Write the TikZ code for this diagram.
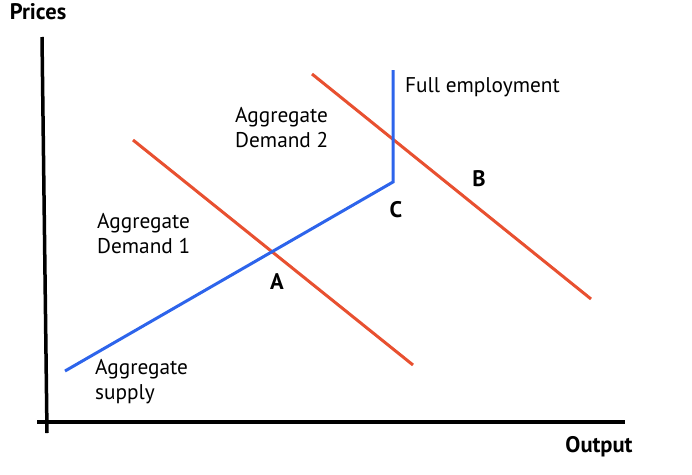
\documentclass[tikz,border=0pt]{standalone}
\usepackage{fontspec}
\setmainfont{PT Sans}
\definecolor{adred}{RGB}{232,80,48}
\definecolor{asblue}{RGB}{45,100,235}
\begin{document}
\begin{tikzpicture}[x=1pt,y=-1pt,
  axis/.style={line width=3.5pt,black},
  adline/.style={line width=3pt,adred},
  asline/.style={line width=3pt,asblue},
  lbl/.style={font=\fontsize{21.3}{25}\selectfont,align=left,anchor=west,inner sep=0pt},
  pt/.style={font=\fontsize{22.5}{25}\selectfont\bfseries,inner sep=0pt}]
\useasboundingbox (0,0) rectangle (692,474);
\coordinate (vtop) at (42,37);
\coordinate (vbot) at (47,433);
\coordinate (hl) at (37,422);
\coordinate (hr) at (625,422);
\draw[axis] (vtop) -- (vbot);
\draw[axis] (hl) -- (hr);
\coordinate (ad1a) at (133,140);
\coordinate (ad1b) at (413,365);
\coordinate (ad2a) at (312,74);
\coordinate (ad2b) at (591,299);
\draw[adline] (ad1a) -- (ad1b);
\draw[adline] (ad2a) -- (ad2b);
\coordinate (as0) at (65,371);
\coordinate (asc) at (393,182);
\coordinate (ftop) at (393,70);
\draw[asline,line join=miter] (as0) -- (asc) -- (ftop);
\node[pt] (prices) at (38,12) {Prices};
\node[pt] (output) at (599,447) {Output};
\node[lbl] (fe) at (405,87) {Full employment};
\node[lbl] (ad2) at (235,128) {Aggregate\\Demand 2};
\node[lbl] (ad1) at (97,234) {Aggregate\\Demand 1};
\node[lbl] (as) at (95,382) {Aggregate\\supply};
\node[pt] (A) at (277,282) {A};
\node[pt] (B) at (479,179) {B};
\node[pt] (C) at (396,210) {C};
\end{tikzpicture}
\end{document}
